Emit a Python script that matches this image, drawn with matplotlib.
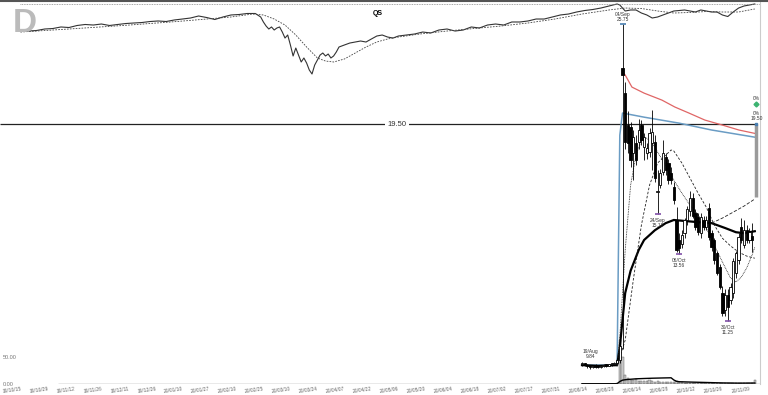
import numpy as np
import matplotlib.pyplot as plt
from matplotlib.lines import Line2D
from matplotlib.transforms import ScaledTranslation

plt.rcParams['font.family'] = ['Liberation Sans', 'DejaVu Sans']

# x axis = trading day index, day 0 = 2019-10-15
tick_days = list(range(0, 271, 10))
tick_labels = ['19/10/15', '19/10/29', '19/11/12', '19/11/26', '19/12/11', '19/12/26',
               '20/01/10', '20/01/27', '20/02/10', '20/02/25', '20/03/10', '20/03/24',
               '20/04/07', '20/04/22', '20/05/06', '20/05/20', '20/06/04', '20/06/18',
               '20/07/02', '20/07/17', '20/07/31', '20/08/14', '20/08/28', '20/09/14',
               '20/09/28', '20/10/12', '20/10/26', '20/11/09']

# market index strip (top)
idx_days = [2, 5, 8, 11, 14, 17, 20, 23, 26, 29, 32, 35, 38, 41, 44, 47, 50, 53, 56, 59,
            62, 65, 68, 71, 74, 77, 80, 83, 86, 89, 91, 92, 93, 94, 95, 96, 97, 98, 99, 100,
            101, 102, 103, 104, 105, 106, 107, 108, 109, 110, 111, 112, 113, 114, 115, 116,
            117, 118, 119, 120, 122, 124, 126, 128, 130, 132, 134, 136, 138, 140, 142, 145,
            148, 151, 154, 157, 160, 163, 166, 169, 172, 175, 178, 181, 184, 187, 190, 193,
            196, 199, 202, 205, 208, 211, 214, 217, 220, 223, 224, 225, 226, 228, 230, 232,
            234, 236, 238, 240, 242, 244, 246, 248, 250, 252, 254, 256, 258, 260, 262, 264,
            266, 268, 270, 272, 274]
idx_vals = [3047, 3047, 3057, 3085, 3094, 3123, 3113, 3151, 3170, 3160, 3179, 3151, 3170,
            3188, 3198, 3207, 3226, 3236, 3226, 3255, 3273, 3292, 3330, 3301, 3264, 3311,
            3349, 3358, 3377, 3377, 3311, 3217, 3141, 3085, 3123, 3066, 3104, 3123, 3028,
            2915, 2972, 2784, 2577, 2727, 2595, 2464, 2539, 2445, 2313, 2238, 2407, 2501,
            2595, 2633, 2577, 2614, 2539, 2577, 2652, 2746, 2784, 2821, 2840, 2859, 2840,
            2897, 2953, 2972, 2934, 2915, 2953, 2972, 2991, 3028, 3010, 3066, 3085, 3047,
            3066, 3123, 3104, 3160, 3179, 3160, 3217, 3217, 3236, 3273, 3273, 3311, 3349,
            3367, 3405, 3433, 3452, 3480, 3518, 3556, 3537, 3480, 3424, 3443, 3443, 3386,
            3349, 3292, 3311, 3349, 3386, 3424, 3433, 3443, 3424, 3405, 3443, 3424, 3405,
            3405, 3349, 3320, 3405, 3480, 3518, 3537, 3556]
idx_ma_days = [2, 20, 40, 60, 80, 88, 92, 96, 100, 104, 108, 112, 115, 118, 122, 126, 130,
               134, 138, 142, 150, 160, 170, 180, 190, 200, 210, 220, 226, 232, 238, 244,
               250, 256, 262, 268, 274]
idx_ma_vals = [3028, 3085, 3151, 3226, 3311, 3367, 3349, 3273, 3160, 2972, 2746, 2539,
               2482, 2464, 2520, 2633, 2746, 2840, 2897, 2934, 2991, 3047, 3094, 3141,
               3198, 3273, 3367, 3443, 3480, 3471, 3424, 3386, 3396, 3414, 3405, 3405, 3462]

# QS daily candles (days 210 .. 273)
bar_days = list(range(210, 274))
opens = [9.98, 10.00, 9.95, 9.92, 9.90, 9.93, 9.91, 9.90, 9.93, 9.95, 9.94, 9.97, 9.98, 10.02,
         10.1, 22.8, 21.26, 19.45, 19.34, 17.98, 18.49, 18.54, 19.45, 18.29, 17.98, 18.03,
         18.49, 18.54, 16.13, 16.44, 17.06, 17.78, 17.49, 17.01, 16.35, 14.92, 14.11, 13.96,
         14.38, 14.9, 15.3, 15.86, 15.21, 15.04, 14.38, 14.92, 14.63, 15.42, 14.38, 14.11,
         13.60, 13.08, 12.17, 11.6, 12.1, 11.93, 12.17, 12.86, 13.34, 14.63, 13.9, 14.5,
         14.11, 14.28]
highs = [10.05, 10.02, 9.99, 9.96, 9.95, 9.97, 9.94, 9.95, 9.98, 9.98, 9.99, 10.02, 10.05, 10.15,
         10.6, 25.75, 21.9, 20.2, 19.6, 19.2, 18.9, 19.8, 19.7, 19.0, 18.5, 19.3,
         20.28, 18.9, 17.15, 17.2, 18.65, 18.0, 17.7, 17.3, 16.6, 15.47, 14.4, 14.5,
         15.0, 15.5, 16.2, 16.1, 15.4, 15.2, 15.2, 15.1, 15.1, 15.64, 14.5, 14.2,
         13.7, 13.2, 12.4, 12.3, 12.3, 12.5, 13.4, 13.7, 14.4, 15.0, 14.92, 14.7,
         14.6, 14.79]
lows = [9.93, 9.92, 9.88, 9.84, 9.86, 9.88, 9.87, 9.88, 9.90, 9.91, 9.92, 9.93, 9.95, 9.98,
        10.0, 10.4, 18.2, 18.0, 17.3, 16.68, 17.4, 18.2, 18.4, 17.64, 17.7, 17.8,
        17.15, 16.6, 15.18, 16.3, 16.9, 16.9, 16.5, 16.5, 15.6, 13.65, 13.56, 13.8,
        14.2, 14.7, 15.1, 15.0, 14.5, 14.3, 14.2, 14.5, 14.5, 14.1, 13.7, 13.2,
        12.8, 12.3, 11.4, 11.4, 11.25, 11.8, 12.0, 12.7, 13.2, 14.0, 13.8, 14.0,
        14.0, 13.65]
closes = [10.00, 9.95, 9.92, 9.90, 9.93, 9.91, 9.90, 9.93, 9.95, 9.94, 9.97, 9.98, 10.02, 10.10,
          10.5, 22.36, 18.54, 18.49, 17.64, 18.81, 17.64, 19.18, 18.65, 18.81, 18.24, 19.02,
          19.07, 16.77, 16.2, 17.01, 17.98, 17.15, 16.68, 16.68, 15.77, 13.72, 13.80, 14.3,
          14.92, 15.4, 15.86, 15.1, 14.63, 14.42, 15.04, 14.63, 14.92, 14.22, 13.83, 13.34,
          12.86, 12.37, 11.5, 12.1, 11.7, 12.37, 13.3, 13.60, 14.22, 14.11, 14.5, 14.11,
          14.42, 14.11]
vol_days = list(range(210, 275))
volumes = [0.6, 0.4, 0.5, 0.8, 0.5, 0.3, 0.4, 0.3, 0.5, 0.4, 0.6, 0.5, 0.7, 1.5,
           82, 50, 16, 11, 8, 7, 9, 6, 5, 6, 5, 7, 6, 4, 5, 4, 4, 3, 4, 3,
           3, 5, 4, 3, 2.5, 2.5, 2, 1.5, 1.5, 1.2, 1.5, 1.2, 1.5, 1.5, 1.8, 1.5, 1.5, 1.8,
           2, 1.5, 2, 1.5, 1.8, 1.8, 1.5, 1.2, 1.5, 1.2, 1.2, 1.0, 8]
vol_ma_days = [210, 223, 224, 225, 226, 227, 228, 230, 233, 236, 240, 243, 244, 245, 246,
               250, 256, 262, 268, 274]
vol_ma_vals = [0.5, 0.55, 4.6, 7.1, 7.9, 8.4, 8.8, 9.6, 10.2, 10.7, 11.2, 11.5, 7.5, 5.0,
               4.2, 3.6, 2.8, 2.0, 1.6, 1.8]

# overlay lines
ma_thick_days = [210, 216, 223, 224, 225, 226, 228, 231, 233, 237, 241, 244, 248, 253, 258,
                 263, 267, 270, 274]
ma_thick_vals = [9.95, 9.93, 9.95, 10.46, 11.28, 12.17, 12.95, 13.72, 14.11, 14.5, 14.79,
                 14.92, 14.88, 14.83, 14.79, 14.59, 14.42, 14.38, 14.46]
ma_a_days = [223, 224, 226, 228, 230, 232, 234, 236, 238, 241, 244, 247, 250, 253, 256, 259,
             262, 265, 267, 269, 271, 273, 274]
ma_a_vals = [9.92, 10.76, 13.72, 16.44, 17.88, 18.65, 18.75, 18.5, 18.03, 17.39, 16.68,
             16.08, 15.55, 15.13, 14.59, 13.91, 13.27, 12.69, 12.55, 12.72, 13.05, 13.53, 13.83]
ma_b_days = [223, 226, 229, 232, 235, 238, 241, 243, 244, 247, 250, 253, 256, 259, 262, 265,
             268, 271, 274]
ma_b_vals = [9.92, 10.67, 12.62, 14.71, 16.44, 17.49, 17.88, 18.14, 18.09, 17.49, 16.77,
             16.08, 15.47, 14.71, 14.18, 13.88, 13.64, 13.49, 13.41]
ma_c_days = [258, 262, 266, 270, 274]
ma_c_vals = [14.79, 15.0, 15.25, 15.51, 15.82]
red_days = [225, 226, 228.5, 233, 239.6, 244.4, 249.6, 255.5, 261.9, 268.1, 274]
red_vals = [22.55, 22.36, 21.62, 21.26, 20.85, 20.45, 20.11, 19.72, 19.45, 19.18, 19.0]
blue_days = [210, 223, 224, 225, 233, 246, 258, 274]
blue_vals = [9.95, 9.95, 18.9, 20.11, 19.88, 19.55, 19.18, 18.8]

level = 19.50
target_low = 15.9
target_mark = 20.62

# high / low annotations: (day, price, label, above?)
marks = [(225, 25.75, '04/Sep\n25.75', True),
         (213, 9.84, '19/Aug\n9.84', True),
         (238, 15.18, '24/Sep\n15.18', False),
         (246, 13.56, '06/Oct\n13.56', False),
         (264, 11.25, '30/Oct\n11.25', False)]

# ---- figure ----
W, H = 768, 395
fig = plt.figure(figsize=(W / 100, H / 100), dpi=100)
xlim = (-15 / 2.7, (760 - 15) / 2.7)
pos = [0, (H - 384) / H, 760 / W, 384 / H]

ax_v = fig.add_axes(pos, zorder=1)
ax = fig.add_axes(pos, zorder=2)
ax_i = fig.add_axes([0, (H - 80) / H, 760 / W, 80 / H], zorder=3)
for a in (ax_v, ax, ax_i):
    a.set_xlim(*xlim)

# volume panel
ax_v.bar(vol_days, volumes, width=0.8, color='#c8c8c8', edgecolor='#555555', linewidth=0.3)
ax_v.plot(vol_ma_days, vol_ma_vals, color='black', lw=1.0)
ax_v.hlines(0, 16, xlim[1], color='#555555', lw=0.9)
ax_v.set_ylim(0, 711)
ax_v.set_yticks([0, 50])
ax_v.set_yticklabels(['0.00', '50.00'])
ax_v.tick_params(axis='y', length=0, pad=-2, labelsize=4, labelcolor='#777777')
for lab in ax_v.get_yticklabels():
    lab.set_ha('left')
ax_v.set_xticks(tick_days)
ax_v.set_xticklabels(tick_labels, rotation=8)
ax_v.tick_params(axis='x', length=0, pad=1.5, labelsize=3.5, labelcolor='#666666')
offset = ScaledTranslation(-3.5 / 100, 0, fig.dpi_scale_trans)
for lab in ax_v.get_xticklabels():
    lab.set_transform(lab.get_transform() + offset)
for s in ('top', 'left', 'bottom'):
    ax_v.spines[s].set_visible(False)
ax_v.spines['right'].set_color('#cccccc')
ax_v.spines['right'].set_linewidth(0.8)

# price panel (log)
ax.set_yscale('log')
ax.set_ylim(9.44, 27.57)
ax.set_axis_off()

ax.hlines(level, xlim[0], 274.6, color='#222222', lw=0.9, zorder=2)
ax.text(141.5, level, f'{level:.2f}', ha='center', va='center', fontsize=5.5, color='#333333',
        bbox=dict(facecolor='white', edgecolor='none', pad=1.5), zorder=3)

ax.plot(red_days, red_vals, color='#e06666', lw=0.9, zorder=3)
ax.plot(blue_days, blue_vals, color='#6a9cc4', lw=1.1, zorder=3)
ax.plot(ma_thick_days, ma_thick_vals, color='black', lw=1.6, zorder=5)
ax.plot(ma_a_days, ma_a_vals, color='#222222', lw=0.6, dashes=(1, 1), zorder=5)
ax.plot(ma_b_days, ma_b_vals, color='#222222', lw=0.6, dashes=(3, 2), zorder=5)
ax.plot(ma_c_days, ma_c_vals, color='#222222', lw=0.6, dashes=(4, 2), zorder=5)

o = np.array(opens)
c = np.array(closes)
days = np.array(bar_days)
ax.vlines(days, lows, highs, color='black', lw=0.6, zorder=6)
up = c >= o
bottoms = np.minimum(o, c)
heights = np.maximum(np.abs(c - o), 0.03)
ax.bar(days[up], heights[up], bottom=bottoms[up], width=0.85,
       facecolor='white', edgecolor='black', linewidth=0.6, zorder=7)
ax.bar(days[~up], heights[~up], bottom=bottoms[~up], width=0.85,
       facecolor='black', edgecolor='black', linewidth=0.6, zorder=7)

for d, p, txt, above in marks:
    col = '#4a7fb0' if above and p > level else '#8050a8'
    if d != 213:
        ax.plot(d, p, marker='_', ms=5, mew=1.2, color=col, zorder=8)
    if above:
        dy = 2 if d != 213 else 7
        ax.annotate(txt, (d, p), xytext=(0, dy), textcoords='offset points', ha='center',
                    va='bottom', fontsize=3.5, color='#333333', linespacing=1.0, zorder=9)
    else:
        ax.annotate(txt, (d, p), xytext=(0, -3), textcoords='offset points', ha='center',
                    va='top', fontsize=3.5, color='#333333', linespacing=1.0, zorder=9)

# right edge target markers
xr = 274.6
ax.vlines(xr, target_low, level, color='#9a9a9a', lw=2.5, zorder=4)
ax.plot(xr, level, marker='s', ms=2, color='#4a7fb0', zorder=8)
ax.plot(xr, target_mark, marker='D', ms=2.5, color='#3cb371', zorder=8)
ax.annotate('0%', (xr, target_mark), xytext=(0, 2.5), textcoords='offset points', ha='center',
            va='bottom', fontsize=3.5, color='#333333')
ax.annotate(f'0%\n{level:.2f}', (xr, level), xytext=(0, 2), textcoords='offset points',
            ha='center', va='bottom', fontsize=3.5, color='#333333', linespacing=1.0)

# index strip
ax_i.set_ylim(2125, 3631)
ax_i.set_axis_off()
ax_i.plot(idx_days, idx_vals, color='#333333', lw=0.8)
ax_i.plot(idx_ma_days, idx_ma_vals, color='#444444', lw=0.6, dashes=(2, 1.5))
ax_i.hlines(max(idx_vals), idx_days[0], xlim[1], color='#888888', lw=0.6, linestyles=(0, (1, 1)))

# titles and frame
fig.text(378 / W, 1 - 13.5 / H, 'QS', ha='center', va='center', fontsize=5, fontweight='bold')
fig.text(13 / W, 1 - 23 / H, 'D', ha='left', va='center', fontsize=24, fontweight='bold',
         color='#bbbbbb')
fig.add_artist(Line2D([0, 1], [1 - 0.5 / H, 1 - 0.5 / H], color='#555555', lw=1.5))

fig.savefig('out.png', dpi=100)
